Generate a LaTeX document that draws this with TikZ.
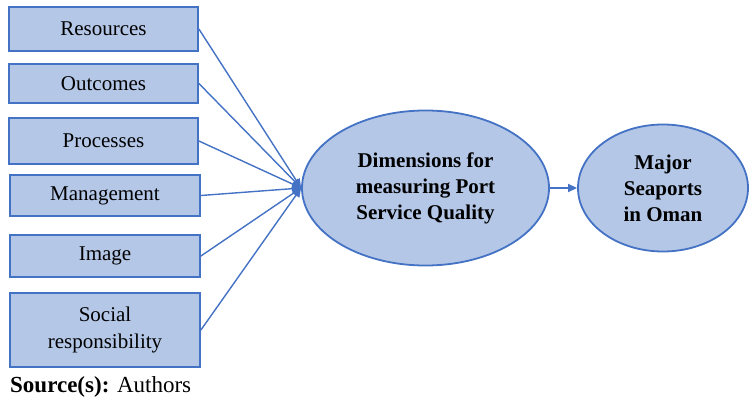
\documentclass[tikz,border=0pt]{standalone}
\usepackage{fontspec}
\setmainfont{LiberationSerif}[Extension=.ttf,UprightFont=*-Regular,BoldFont=*-Bold,ItalicFont=*-Italic,BoldItalicFont=*-BoldItalic]
\usepackage{tikz}
\usetikzlibrary{arrows.meta,%
                shapes.geometric}
\definecolor{boxfill}{HTML}{B4C7E7}
\definecolor{boxline}{HTML}{4472C4}

\begin{document}
\begin{tikzpicture}[x=1pt,y=-1pt]
		\useasboundingbox (0,0) rectangle (749,401);
		\tikzset{DimBox/.style = {draw=boxline,fill=boxfill,line width=1.8pt,shape=rectangle,minimum width=189pt,inner sep=0pt,align=center,font=\fontsize{21}{27}\selectfont}}
		\tikzset{DimEllipse/.style = {draw=boxline,fill=boxfill,line width=1.8pt,shape=ellipse,inner sep=0pt,align=center,font=\fontsize{21}{26}\selectfont\bfseries}}
		\tikzset{DimEdge/.style = {draw=boxline,line width=1.4pt,-{Triangle[length=9pt,width=8pt]}}}
		% dimensions
		\node[DimBox,minimum height=44pt] (res) at (103.5,29) {Resources};
		\node[DimBox,minimum height=39pt] (out) at (103.5,83.5) {Outcomes};
		\node[DimBox,minimum height=46pt] (pro) at (103.5,141) {Processes};
		\node[DimBox,minimum height=41pt,minimum width=190pt] (man) at (105,195.5) {Management};
		\node[DimBox,minimum height=42pt,minimum width=190pt] (ima) at (105,256) {Image};
		\node[DimBox,minimum height=74pt,minimum width=190pt] (soc) at (105,330) {Social\\responsibility};
		% ellipses
		\node[DimEllipse,minimum width=247pt,minimum height=155pt] (psq) at (425.5,188) {Dimensions for\\measuring Port\\Service Quality};
		\node[DimEllipse,minimum width=170pt,minimum height=127pt] (oman) at (663,188) {Major\\Seaports\\in Oman};
		%\draw[help lines] (0,0) grid (749,401);
		\foreach \dim in {res,out,pro,man,ima,soc}
			\draw[DimEdge] (\dim.east) -- (psq.west);
		\draw[DimEdge] (psq.east) -- (oman.west);
		\node[anchor=base west,inner sep=0pt,font=\fontsize{23}{27}\selectfont] (src) at (10,392) {\textbf{Source(s):} Authors};
	\end{tikzpicture}
\end{document}
